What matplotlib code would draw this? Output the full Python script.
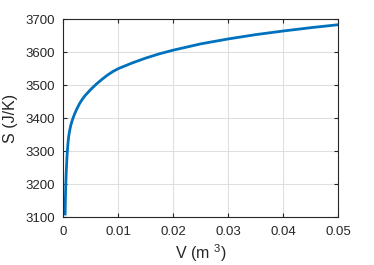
import matplotlib
matplotlib.use("Agg")
import matplotlib.pyplot as plt

# values
volume = [0.00035, 0.0004, 0.0005, 0.0006, 0.0007, 0.0008, 0.0009, 0.001,
          0.0012, 0.0014, 0.0016, 0.0018, 0.002, 0.0025, 0.003, 0.0035,
          0.004, 0.005, 0.006, 0.007, 0.008, 0.009, 0.01, 0.0125, 0.015,
          0.0175, 0.02, 0.025, 0.03, 0.035, 0.04, 0.045, 0.05]
entropy = [3110, 3160, 3215, 3255, 3287, 3310, 3330, 3345,
           3365, 3380, 3391, 3401, 3410, 3429, 3445, 3458,
           3469, 3487, 3503, 3517, 3530, 3541, 3550, 3567, 3582,
           3595, 3606, 3625, 3640, 3653, 3664, 3674, 3683]

x_ticks = [0, 0.01, 0.02, 0.03, 0.04, 0.05]
x_tick_labels = ["0", "0.01", "0.02", "0.03", "0.04", "0.05"]
y_ticks = [3100, 3200, 3300, 3400, 3500, 3600, 3700]

plt.rcParams["font.family"] = ["Liberation Sans", "DejaVu Sans"]
plt.rcParams["mathtext.fontset"] = "custom"
plt.rcParams["mathtext.rm"] = "Liberation Sans"

fig = plt.figure(figsize=(3.74, 2.65), dpi=100)
ax = fig.add_axes([0.169, 0.180, 0.736, 0.748])

ax.plot(volume, entropy, color="#0072BD", linewidth=2.0)

ax.set_xlim(0, 0.05)
ax.set_ylim(3100, 3700)
ax.set_xticks(x_ticks)
ax.set_xticklabels(x_tick_labels)
ax.set_yticks(y_ticks)

ax.grid(True, color="#DFDFDF", linewidth=0.8)
ax.set_axisbelow(True)
for side in ["top", "bottom", "left", "right"]:
    ax.spines[side].set_color("#262626")
    ax.spines[side].set_linewidth(0.8)
ax.tick_params(direction="in", length=3, width=0.8, colors="#262626",
               labelsize=9.5, top=True, right=True, pad=6)

ax.set_xlabel("V (m $^{3}$)", fontsize=11.5, color="#262626", labelpad=3)
ax.set_ylabel("S (J/K)", fontsize=11.5, color="#262626", labelpad=5)

fig.savefig("out.png", dpi=100)
